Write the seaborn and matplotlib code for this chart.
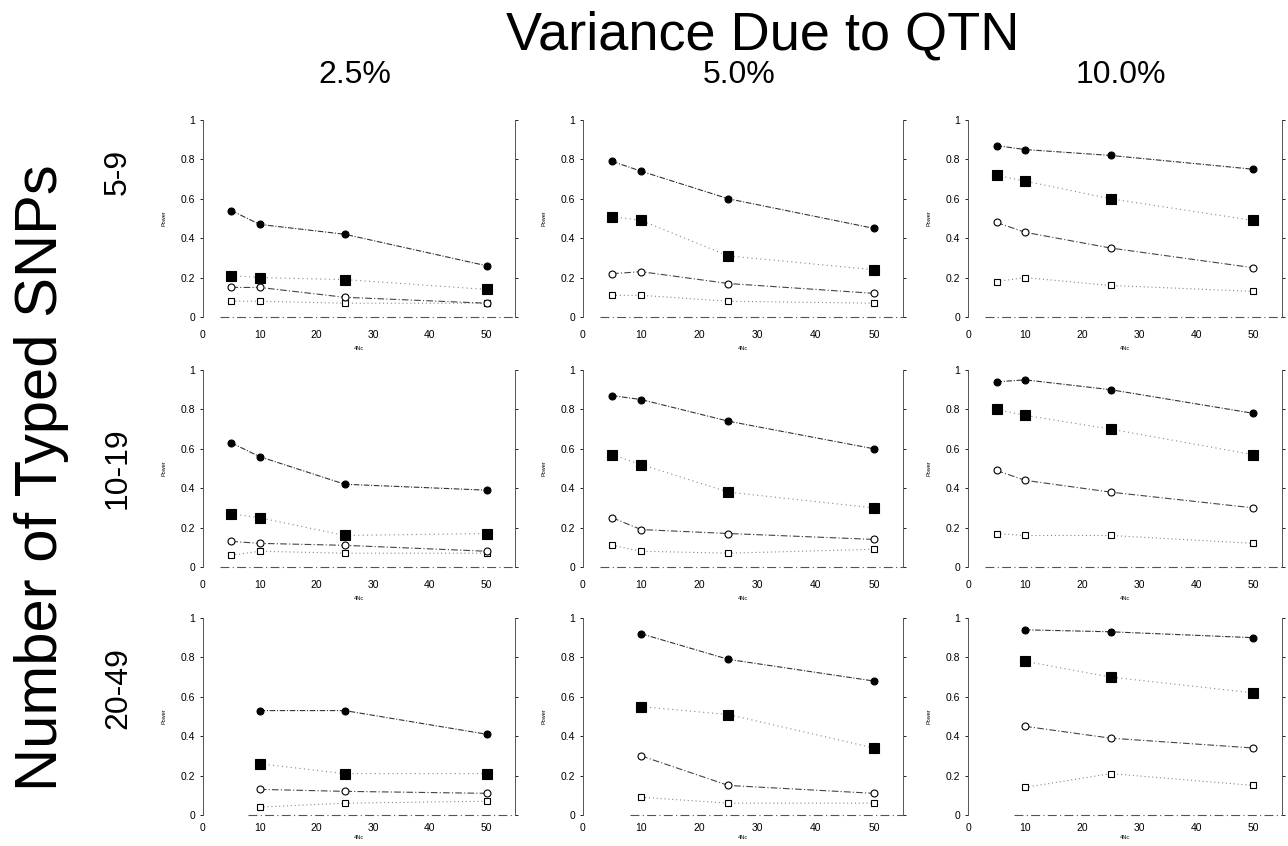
import matplotlib
matplotlib.use("Agg")
import matplotlib.pyplot as plt
import pandas as pd
import seaborn as sns

# x values (4Nc) per row of panels
x_rows = [[5, 10, 25, 50], [5, 10, 25, 50], [10, 25, 50]]

row_labels = ["5-9", "10-19", "20-49"]
col_labels = ["2.5%", "5.0%", "10.0%"]

# power values, one list per column (2.5%, 5.0%, 10.0%) within each row
filled_circle_r1 = [[0.54, 0.47, 0.42, 0.26], [0.79, 0.74, 0.60, 0.45], [0.87, 0.85, 0.82, 0.75]]
filled_square_r1 = [[0.21, 0.20, 0.19, 0.14], [0.51, 0.49, 0.31, 0.24], [0.72, 0.69, 0.60, 0.49]]
open_circle_r1 = [[0.15, 0.15, 0.10, 0.07], [0.22, 0.23, 0.17, 0.12], [0.48, 0.43, 0.35, 0.25]]
open_square_r1 = [[0.08, 0.08, 0.07, 0.07], [0.11, 0.11, 0.08, 0.07], [0.18, 0.20, 0.16, 0.13]]

filled_circle_r2 = [[0.63, 0.56, 0.42, 0.39], [0.87, 0.85, 0.74, 0.60], [0.94, 0.95, 0.90, 0.78]]
filled_square_r2 = [[0.27, 0.25, 0.16, 0.17], [0.57, 0.52, 0.38, 0.30], [0.80, 0.77, 0.70, 0.57]]
open_circle_r2 = [[0.13, 0.12, 0.11, 0.08], [0.25, 0.19, 0.17, 0.14], [0.49, 0.44, 0.38, 0.30]]
open_square_r2 = [[0.06, 0.08, 0.07, 0.07], [0.11, 0.08, 0.07, 0.09], [0.17, 0.16, 0.16, 0.12]]

filled_circle_r3 = [[0.53, 0.53, 0.41], [0.92, 0.79, 0.68], [0.94, 0.93, 0.90]]
filled_square_r3 = [[0.26, 0.21, 0.21], [0.55, 0.51, 0.34], [0.78, 0.70, 0.62]]
open_circle_r3 = [[0.13, 0.12, 0.11], [0.30, 0.15, 0.11], [0.45, 0.39, 0.34]]
open_square_r3 = [[0.04, 0.06, 0.07], [0.09, 0.06, 0.06], [0.14, 0.21, 0.15]]

series = {
    "fc": [filled_circle_r1, filled_circle_r2, filled_circle_r3],
    "fs": [filled_square_r1, filled_square_r2, filled_square_r3],
    "oc": [open_circle_r1, open_circle_r2, open_circle_r3],
    "os": [open_square_r1, open_square_r2, open_square_r3],
}

styles = {
    "fc": dict(marker="o", ms=5, mfc="black", ls=(0, (5, 1.5, 1, 1.5)), color="#333333"),
    "fs": dict(marker="s", ms=6.5, mfc="black", ls=(0, (1, 3)), color="#888888"),
    "oc": dict(marker="o", ms=5, mfc="white", ls=(0, (6, 2, 1, 2)), color="#444444"),
    "os": dict(marker="s", ms=5, mfc="white", ls=(0, (1, 2.5)), color="#888888"),
}

rows = []
for key, per_row in series.items():
    for r, row_vals in enumerate(per_row):
        for c, vals in enumerate(row_vals):
            for x, y in zip(x_rows[r], vals):
                rows.append({"series": key, "row": r, "col": c, "x": x, "power": y})
df = pd.DataFrame(rows)

sns.set_style("ticks")
plt.rcParams["font.family"] = ["Liberation Sans", "DejaVu Sans"]
plt.rcParams["text.color"] = "black"

fig = plt.figure(figsize=(12.88, 8.46), dpi=100)
W, H = 1288, 846
col_left = [203, 583, 968]
col_width = [312, 320, 314]
row_top = [120, 370, 618]
row_height = 197

for r in range(3):
    for c in range(3):
        ax = fig.add_axes([col_left[c] / W, 1 - (row_top[r] + row_height) / H,
                           col_width[c] / W, row_height / H])
        sub = df[(df.row == r) & (df.col == c)]
        # faint baseline at zero
        sns.lineplot(x=[x_rows[r][0] - 2, 55], y=[0, 0], ax=ax, color="#555555",
                     lw=0.8, ls=(0, (8, 3, 1, 3)), clip_on=False)
        for key in ["os", "oc", "fs", "fc"]:
            d = sub[sub.series == key]
            st = styles[key]
            sns.lineplot(data=d, x="x", y="power", ax=ax, color=st["color"], lw=0.8,
                         linestyle=st["ls"], marker=st["marker"], markersize=st["ms"],
                         markerfacecolor=st["mfc"], markeredgecolor="black",
                         markeredgewidth=0.8, clip_on=False, zorder=3)
        ax.set_xlim(0, 55)
        ax.set_ylim(0, 1)
        ax.set_xticks([0, 10, 20, 30, 40, 50])
        ax.set_yticks([0, 0.2, 0.4, 0.6, 0.8, 1])
        ax.set_yticklabels(["0", "0.2", "0.4", "0.6", "0.8", "1"])
        ax.tick_params(labelsize=7.5, length=2.5, width=0.6, colors="black",
                       right=True, labelright=False, pad=3)
        last = r == 2
        ax.tick_params(axis="x", length=0, pad=6 if last else 9)
        for s in ["top", "bottom"]:
            ax.spines[s].set_visible(False)
        for s in ["left", "right"]:
            ax.spines[s].set_linewidth(0.7)
            ax.spines[s].set_color("#555555")
            ax.spines[s].set_linestyle((0, (2, 1)))
        ax.set_xlabel("4Nc", fontsize=4, labelpad=1 if last else 5, color="black")
        ax.set_ylabel("Power", fontsize=4, labelpad=10, color="black")

fig.text(763 / W, 1 - 35 / H, "Variance Due to QTN", fontsize=39,
         ha="center", va="center")
for c, lab in enumerate(col_labels):
    fig.text((col_left[c] + col_width[c] / 2 - 4) / W, 1 - 75 / H, lab,
             fontsize=23, ha="center", va="center")
row_centers = [172, 468, 688]
for r, lab in enumerate(row_labels):
    fig.text(118 / W, 1 - row_centers[r] / H, lab, fontsize=23, rotation=90,
             ha="center", va="center")
fig.text(42 / W, 1 - 478 / H, "Number of Typed SNPs", fontsize=43, rotation=90,
         ha="center", va="center")

fig.savefig("out.png", dpi=100)
